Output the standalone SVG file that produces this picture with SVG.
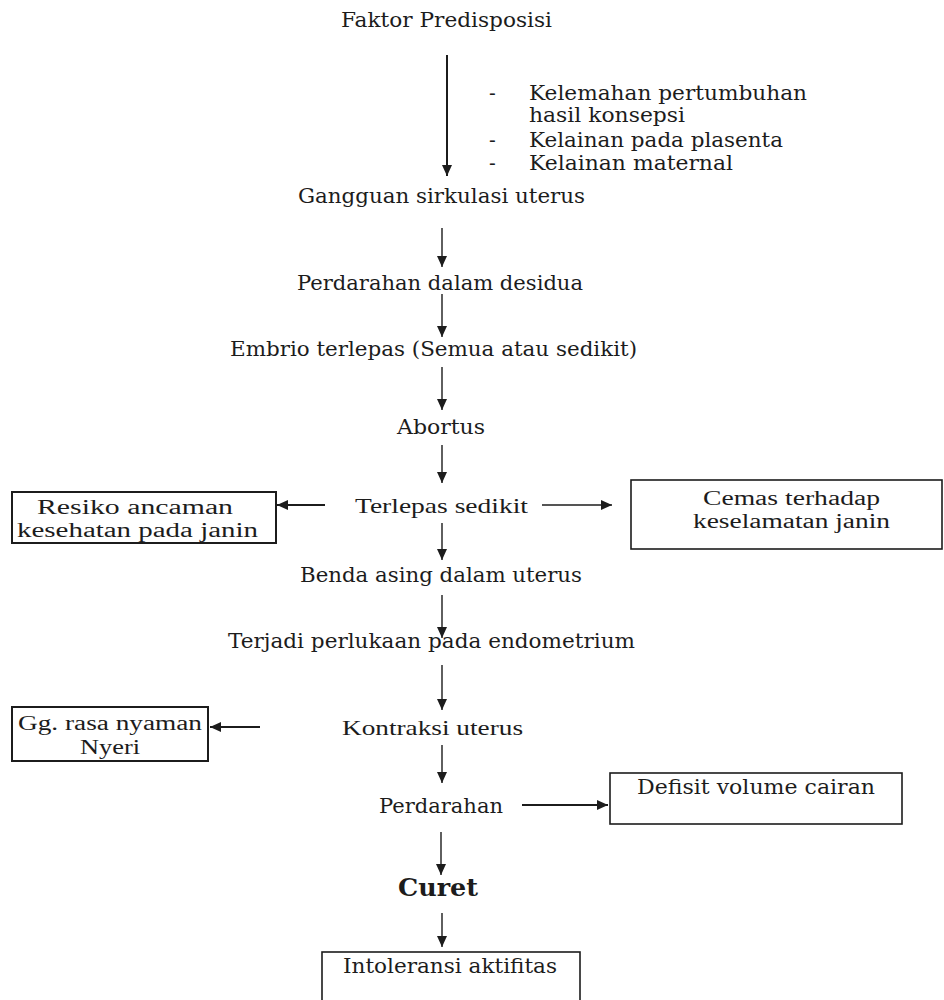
<svg xmlns="http://www.w3.org/2000/svg" width="944" height="1000" viewBox="0 0 944 1000">
<style>
.b{font-family:"DejaVu Serif",serif;font-size:20px;fill:#1c1c1c}
.t{font-family:"Liberation Serif",serif;font-size:22px;fill:#1c1c1c}
.t2{font-family:"Liberation Serif",serif;font-size:20px;fill:#1c1c1c}
.bx{fill:#fff;stroke:#1c1c1c;stroke-width:2}
.c{stroke:#1c1c1c;stroke-width:1.4;fill:none;marker-end:url(#ah)}
.c2{stroke:#1c1c1c;stroke-width:2;fill:none;marker-end:url(#ah)}
</style>
<defs>
<marker id="ah" markerUnits="userSpaceOnUse" markerWidth="11" markerHeight="10" refX="11" refY="5" orient="auto">
<path d="M0,0 L11,5 L0,10 z" fill="#1c1c1c"/>
</marker>
</defs>
<rect width="944" height="1000" fill="#fff"/>
<g id="connectors">
<line class="c2" x1="447" y1="55" x2="447" y2="176"/>
<line class="c" x1="442" y1="228" x2="442" y2="267"/>
<line class="c" x1="442" y1="294" x2="442" y2="337"/>
<line class="c" x1="442" y1="367" x2="442" y2="410"/>
<line class="c" x1="442" y1="445" x2="442" y2="483"/>
<line class="c2" x1="325" y1="505" x2="277" y2="505"/>
<line class="c" x1="542" y1="505" x2="612" y2="505"/>
<line class="c" x1="442" y1="523" x2="442" y2="560"/>
<line class="c" x1="442" y1="595" x2="442" y2="638"/>
<line class="c" x1="442" y1="665" x2="442" y2="710"/>
<line class="c2" x1="260" y1="727" x2="210" y2="727"/>
<line class="c" x1="442" y1="745" x2="442" y2="783"/>
<line class="c2" x1="522" y1="805" x2="608" y2="805"/>
<line class="c" x1="441" y1="832" x2="441" y2="875"/>
<line class="c" x1="442" y1="913" x2="442" y2="947"/>
</g>
<g id="faktor"><text class="b" x="341" y="27" textLength="211" lengthAdjust="spacingAndGlyphs">Faktor Predisposisi</text></g>
<g id="faktor-list">
<text class="b" x="489" y="100">-</text>
<text class="b" x="529" y="100" textLength="278" lengthAdjust="spacingAndGlyphs">Kelemahan pertumbuhan</text>
<text class="b" x="529" y="122" textLength="156" lengthAdjust="spacingAndGlyphs">hasil konsepsi</text>
<text class="b" x="489" y="147">-</text>
<text class="b" x="529" y="147" textLength="254" lengthAdjust="spacingAndGlyphs">Kelainan pada plasenta</text>
<text class="b" x="489" y="170">-</text>
<text class="b" x="529" y="170" textLength="204" lengthAdjust="spacingAndGlyphs">Kelainan maternal</text>
</g>
<g id="gangguan"><text class="b" x="298" y="203" textLength="287" lengthAdjust="spacingAndGlyphs">Gangguan sirkulasi uterus</text></g>
<g id="perdarahan-desidua"><text class="b" x="297" y="290" textLength="286" lengthAdjust="spacingAndGlyphs">Perdarahan dalam desidua</text></g>
<g id="embrio"><text class="b" x="230" y="356" textLength="407" lengthAdjust="spacingAndGlyphs">Embrio terlepas (Semua atau sedikit)</text></g>
<g id="abortus"><text class="b" x="397" y="434" textLength="88" lengthAdjust="spacingAndGlyphs">Abortus</text></g>
<g id="terlepas"><text class="t" x="355" y="513" textLength="173" lengthAdjust="spacingAndGlyphs">Terlepas sedikit</text></g>
<g id="resiko">
<rect class="bx" x="12" y="492" width="264" height="51"/>
<text class="t2" x="37" y="514" textLength="196" lengthAdjust="spacingAndGlyphs">Resiko ancaman</text>
<text class="t2" x="17" y="537" textLength="241" lengthAdjust="spacingAndGlyphs">kesehatan pada janin</text>
</g>
<g id="cemas">
<rect class="bx" x="631" y="480" width="311" height="69" style="stroke-width:1.6"/>
<text class="t2" x="703" y="505" textLength="177" lengthAdjust="spacingAndGlyphs">Cemas terhadap</text>
<text class="t2" x="693" y="528" textLength="197" lengthAdjust="spacingAndGlyphs">keselamatan janin</text>
</g>
<g id="benda"><text class="b" x="300" y="582" textLength="282" lengthAdjust="spacingAndGlyphs">Benda asing dalam uterus</text></g>
<g id="terjadi"><text class="b" x="228" y="648" textLength="407" lengthAdjust="spacingAndGlyphs">Terjadi perlukaan pada endometrium</text></g>
<g id="kontraksi"><text class="t" x="342" y="735" textLength="181" lengthAdjust="spacingAndGlyphs">Kontraksi uterus</text></g>
<g id="nyeri">
<rect class="bx" x="12" y="707" width="196" height="54"/>
<text class="t2" x="18" y="730" textLength="184" lengthAdjust="spacingAndGlyphs">Gg. rasa nyaman</text>
<text class="t2" x="80" y="754" textLength="60" lengthAdjust="spacingAndGlyphs">Nyeri</text>
</g>
<g id="perdarahan"><text class="b" x="379" y="813" textLength="124" lengthAdjust="spacingAndGlyphs">Perdarahan</text></g>
<g id="defisit">
<rect class="bx" x="610" y="773" width="292" height="51" style="stroke-width:1.6"/>
<text class="b" x="637" y="794" textLength="238" lengthAdjust="spacingAndGlyphs">Defisit volume cairan</text>
</g>
<g id="curet"><text class="b" x="398" y="896" style="font-size:25px;font-weight:bold" textLength="80" lengthAdjust="spacingAndGlyphs">Curet</text></g>
<g id="intoleransi">
<rect class="bx" x="322" y="952" width="258" height="60" style="stroke-width:1.6"/>
<text class="b" x="343" y="973" textLength="214" lengthAdjust="spacingAndGlyphs">Intoleransi aktifitas</text>
</g>
</svg>
